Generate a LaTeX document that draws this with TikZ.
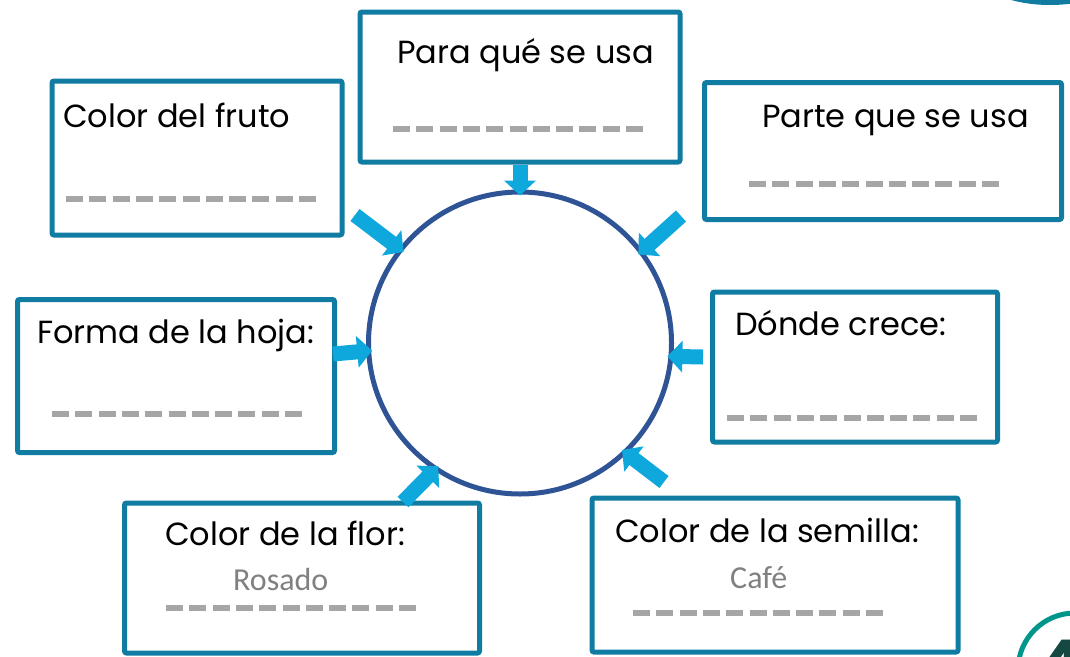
\documentclass[tikz,border=0pt]{standalone}
\usepackage{fontspec}
\setmainfont{Poppins}
\newfontfamily\notefont{Carlito}
\usetikzlibrary{positioning, arrows.meta, shapes.geometric, calc}
\definecolor{cardBlue}{RGB}{17,124,162}
\definecolor{ringBlue}{RGB}{46,84,150}
\definecolor{arrowCyan}{RGB}{15,168,220}
\definecolor{blankGray}{RGB}{166,166,166}
\definecolor{noteGray}{RGB}{128,128,128}
\definecolor{badgeTeal}{RGB}{0,150,140}
\definecolor{badgeDark}{RGB}{20,72,64}

\begin{document}
\begin{tikzpicture}[
    x=1pt, y=-1pt,
    card/.style={
        rectangle, draw=cardBlue, line width=5pt, inner sep=0pt, rounded corners=2pt
    },
    title/.style={anchor=base west, inner sep=0pt, font=\fontsize{32}{38}\selectfont},
    note/.style={anchor=base west, inner sep=0pt, text=noteGray, font=\notefont\fontsize{32}{38}\selectfont},
    blank/.style={draw=blankGray, line width=6pt, dash pattern=on 17pt off 6.3pt},
    flow/.style={draw=arrowCyan, line width=15pt, -{Triangle[width=31pt, length=15pt]}, shorten >=-6pt}
]
\path[use as bounding box, fill=white] (0,0) rectangle (1070,656);

% --- Corner badges (page decoration) --------------------------------------
\fill[cardBlue] (1050,-35) ellipse [x radius=80, y radius=40];
\draw[badgeTeal, line width=5pt] (1075,670) circle [radius=57];
\node[anchor=base west, inner sep=0pt, text=badgeDark, font=\bfseries\fontsize{70}{80}\selectfont] (badgenum) at (1036,690) {4};

% --- Centre ring -----------------------------------------------------------
\node[ellipse, draw=ringBlue, line width=5pt, minimum width=303pt, minimum height=302pt] (circ) at (520,343) {};

% --- Cards -----------------------------------------------------------------
\node[card, minimum width=320pt, minimum height=150pt] (para) at (520,87) {};
\node[card, minimum width=290pt, minimum height=154pt] (fruto) at (197,158) {};
\node[card, minimum width=357pt, minimum height=137pt] (parte) at (883,151) {};
\node[card, minimum width=317pt, minimum height=153pt] (hoja) at (176,376) {};
\node[card, minimum width=285pt, minimum height=150pt] (donde) at (855,367) {};
\node[card, minimum width=355pt, minimum height=150pt] (flor) at (302,578) {};
\node[card, minimum width=366pt, minimum height=154pt] (semilla) at (775,575) {};

% --- Card texts --------------------------------------------------------------
\node[title] (tpara) at (397,63) {Para qué se usa};
\node[title] (tfrutolbl) at (63,127) {Color del fruto};
\node[title] (tpartelbl) at (762,127) {Parte que se usa};
\node[title] (thojalbl) at (37,343) {Forma de la hoja:};
\node[title] (tdondelbl) at (735,335) {Dónde crece:};
\node[title] (tflorlbl) at (165,545) {Color de la flor:};
\node[title] (tsemillalbl) at (615,542) {Color de la semilla:};
\node[note] (nflor) at (233,590) {Rosado};
\node[note] (nsemilla) at (730,588) {Café};

% --- Answer blanks -----------------------------------------------------------
\draw[blank] (393,129) -- ++(250,0);
\draw[blank] (66,199) -- ++(250,0);
\draw[blank] (749,184) -- ++(250,0);
\draw[blank] (52,414) -- ++(250,0);
\draw[blank] (727,418) -- ++(250,0);
\draw[blank] (166,608) -- ++(250,0);
\draw[blank] (633,613) -- ++(250,0);

% --- Arrows into the ring ----------------------------------------------------
\coordinate (afruto) at (355,215);
\coordinate (aparte) at (681,216);
\coordinate (ahoja) at (333,354);
\coordinate (adonde) at (703,357);
\coordinate (aflor) at (403,502);
\coordinate (asemilla) at (664,482);
\draw[flow] (para.south) -- (circ.north);
\draw[flow] (afruto) -- (circ.142);
\draw[flow] (aparte) -- (circ.37);
\draw[flow] (ahoja) -- (circ.183);
\draw[flow] (adonde) -- (circ.355);
\draw[flow] (aflor) -- (circ.236);
\draw[flow] (asemilla) -- (circ.314);

\end{tikzpicture}
\end{document}
